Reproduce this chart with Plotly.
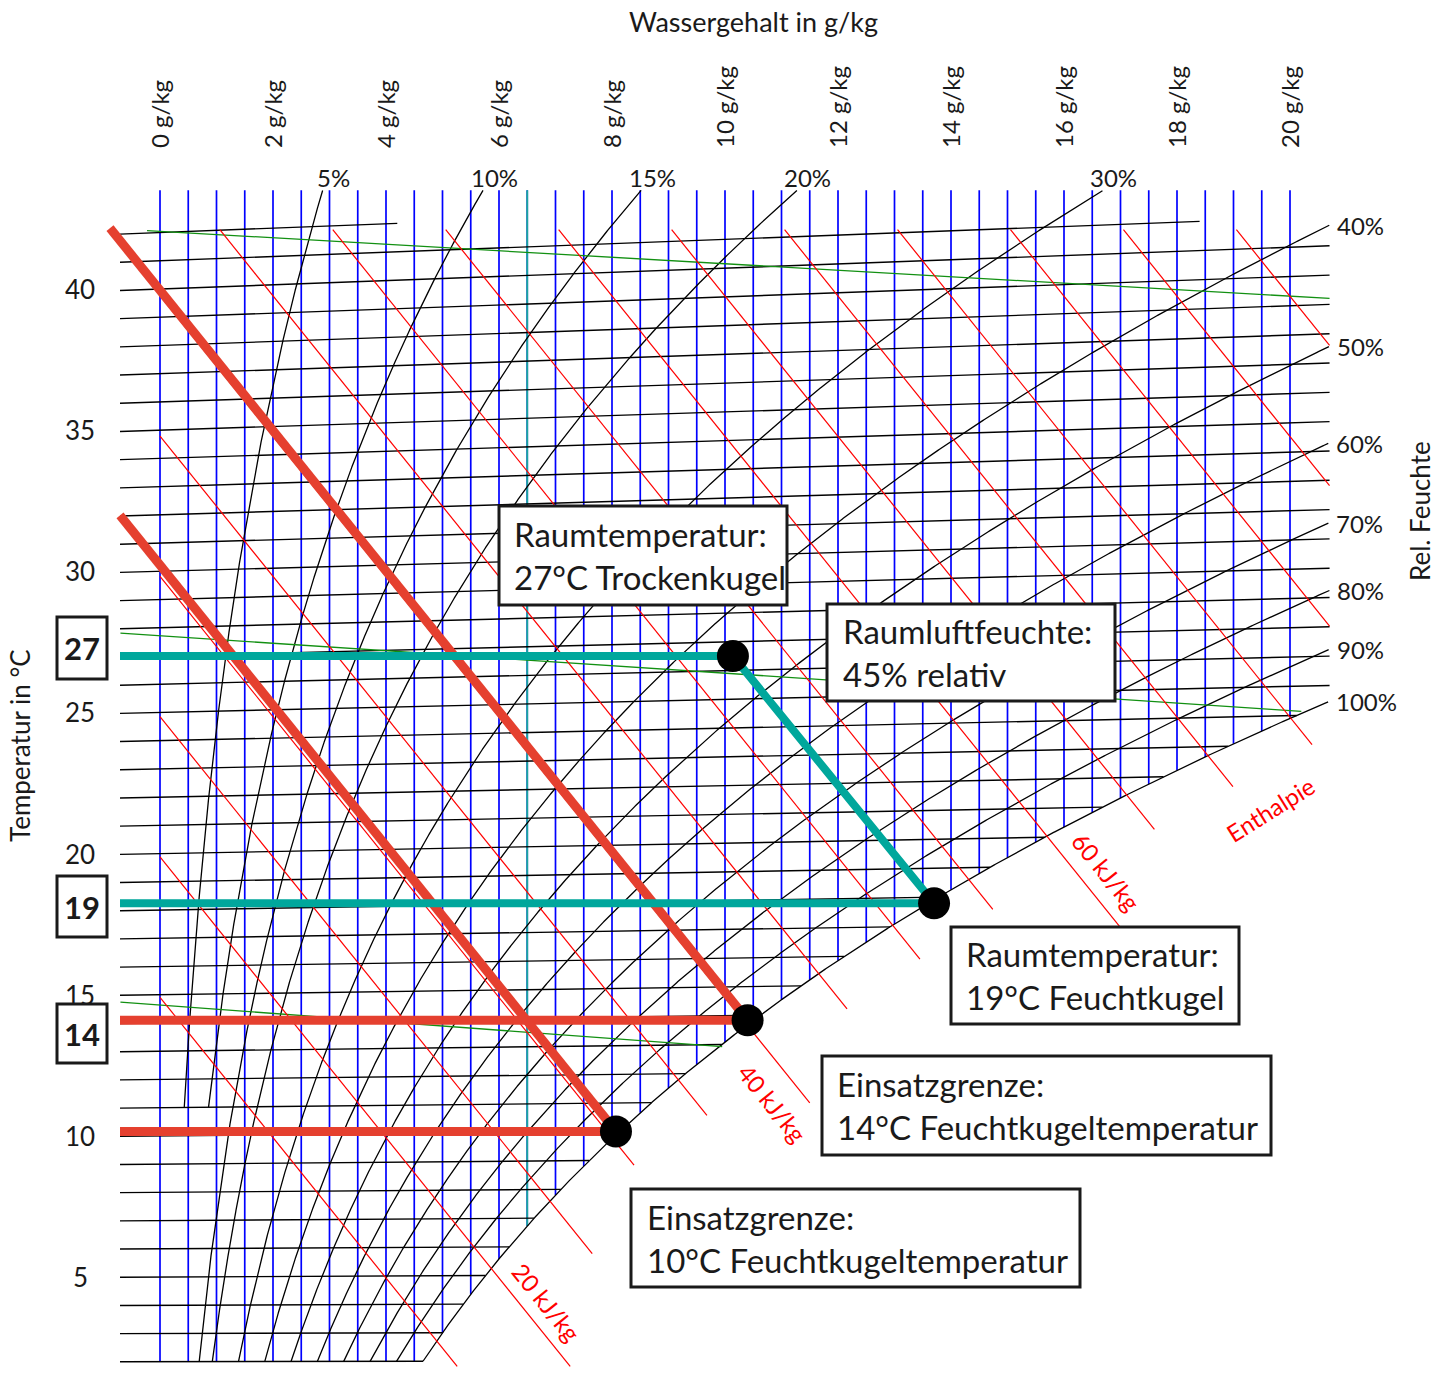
import numpy as np
import plotly.graph_objects as go

# ---------- Daten: h,x-Diagramm (Luftdruck ca. 950 hPa) ----------
p_luft = 95000.0  # Pa

isothermen = list(range(2, 43))            # Temperaturlinien in °C
isotherm_ende = {41: 18.4, 42: 4.2}         # kürzere Linien oben (g/kg)
wasser_linien = [i / 2 for i in range(41)]  # 0 ... 20 g/kg
wasser_markiert = 6.5
wasser_ticks = list(range(0, 21, 2))
temp_ticks = [5, 10, 15, 20, 25, 30, 35, 40]

rf_werte = [5, 10, 15, 20, 30, 40, 50, 60, 70, 80, 90, 100]   # %
rf_start = [11, 11, 2, 2, 2, 2, 2, 2, 2, 2, 2, 2]            # °C

h_werte = list(range(15, 95, 5))                              # kJ/kg
h_ende = [5.26, 7.26, 7.65, 8.39, 9.68, 11.5, 12.16, 13.45,
          14.74, 16.99, 17.6, 18.99, 20.39, 20.7, 20.7, 20.7]  # g/kg
h_text = {20: (547, 1302), 40: (773, 1103), 60: (1106, 872)}

dichte = [1.05, 1.10, 1.15]          # kg/m³
dichte_von = [-0.23, -0.7, -0.7]
dichte_bis = [20.7, 20.2, 9.95]

# Zustandspunkte: Wassergehalt g/kg, Ordinate °C
punkt_x = [10.14, 13.7, 10.4, 8.07]
punkt_y = [27.0, 18.24, 14.1, 10.16]
rot_von = [-0.885, -0.708]           # Anfang der dicken Enthalpielinien

X_LINKS, X_RECHTS = -0.708, 20.7
Y_OBEN, Y_OBEN_H = 43.5, 42.1
K = 1.86 / 1.006 / 1000


def ordinate(t, x):
    return t * (1 + K * x)


def ps(t):
    return 611.2 * np.exp(17.62 * t / (243.12 + t))


def x_sat(t, phi=1.0):
    return 622 * phi * ps(t) / (p_luft - phi * ps(t))


def t_sat(x):
    l = np.log(x * p_luft / (622 + x) / 611.2)
    return 243.12 * l / (17.62 - l)


def h_linie(h, x):
    return (h - 2.501 * np.asarray(x)) / 1.006


def segs(pairs):
    xs, ys = [], []
    for a, b in pairs:
        xs += list(a) + [None]
        ys += list(b) + [None]
    return xs, ys


fig = go.Figure()

# senkrechte Linien (Wassergehalt)
paare = []
for x in wasser_linien:
    unten = ordinate(2, x) if x < x_sat(2) else ordinate(t_sat(x), x)
    paare.append(([x, x], [Y_OBEN, unten]))
xs, ys = segs(paare)
fig.add_trace(go.Scatter(x=xs, y=ys, mode="lines", line=dict(color="#0000ff", width=1.7), hoverinfo="skip"))
unten = ordinate(t_sat(wasser_markiert), wasser_markiert)
fig.add_trace(go.Scatter(x=[wasser_markiert, wasser_markiert], y=[Y_OBEN, unten], mode="lines",
                         line=dict(color="#1aa89b", width=1.8), hoverinfo="skip"))

# Isothermen
paare = []
for t in isothermen:
    xe = isotherm_ende.get(t, min(x_sat(t), X_RECHTS))
    paare.append(([X_LINKS, xe], [ordinate(t, X_LINKS), ordinate(t, xe)]))
xs, ys = segs(paare)
fig.add_trace(go.Scatter(x=xs, y=ys, mode="lines", line=dict(color="black", width=1.4), hoverinfo="skip"))

# relative Feuchte
rf_enden = []
paare = []
for phi, t0 in zip(rf_werte, rf_start):
    t = np.arange(t0, 50, 0.02)
    x = x_sat(t, phi / 100)
    y = ordinate(t, x)
    m = (x <= X_RECHTS) & (y <= Y_OBEN)
    paare.append((x[m], y[m]))
    rf_enden.append((x[m][-1], y[m][-1]))
xs, ys = segs(paare)
fig.add_trace(go.Scatter(x=xs, y=ys, mode="lines", line=dict(color="black", width=1.3), hoverinfo="skip"))

# Dichte (grün)
paare = []
for rho, a, b in zip(dichte, dichte_von, dichte_bis):
    x = np.linspace(a, b, 80)
    T = p_luft * (1 + x / 1000) / (rho * 287.05 * (1 + 1.608 * x / 1000))
    paare.append((x, ordinate(T - 273.15, x)))
xs, ys = segs(paare)
fig.add_trace(go.Scatter(x=xs, y=ys, mode="lines", line=dict(color="#129012", width=1.3), hoverinfo="skip"))

# Enthalpie (rot)
paare = []
for h, xe in zip(h_werte, h_ende):
    xa = max(0.0, (h - 1.006 * Y_OBEN_H) / 2.501)
    paare.append(([xa, xe], h_linie(h, [xa, xe])))
xs, ys = segs(paare)
fig.add_trace(go.Scatter(x=xs, y=ys, mode="lines", line=dict(color="#ff0000", width=1.2), hoverinfo="skip"))

# Prozesslinien
rot = "#e5402f"
teal = "#00a79c"
for i, xa in zip([2, 3], rot_von):
    h = 1.006 * punkt_y[i] + 2.501 * punkt_x[i]
    fig.add_trace(go.Scatter(x=[xa, punkt_x[i]], y=h_linie(h, [xa, punkt_x[i]]), mode="lines",
                             line=dict(color=rot, width=9), hoverinfo="skip"))
    fig.add_trace(go.Scatter(x=[X_LINKS, punkt_x[i]], y=[punkt_y[i], punkt_y[i]], mode="lines",
                             line=dict(color=rot, width=9), hoverinfo="skip"))
fig.add_trace(go.Scatter(x=[X_LINKS, punkt_x[0], punkt_x[1], X_LINKS],
                         y=[punkt_y[0], punkt_y[0], punkt_y[1], punkt_y[1]], mode="lines",
                         line=dict(color=teal, width=8), hoverinfo="skip"))
fig.add_trace(go.Scatter(x=punkt_x, y=punkt_y, mode="markers",
                         marker=dict(color="black", size=32), hoverinfo="skip"))

# ---------- Beschriftung ----------
FONT = "Lato"
W, H = 1440, 1378


def px(v):
    return v / W


def py(v):
    return 1 - v / H


def txt(x, y, text, size, xref="paper", yref="paper", **kw):
    d = dict(x=x, y=y, xref=xref, yref=yref, text=text, showarrow=False,
             xanchor="center", yanchor="middle", font=dict(size=size))
    d.update(kw)
    if "color" in kw:
        d["font"] = dict(size=size, color=kw.pop("color"))
        d.pop("color")
    return d


ann = []
ann.append(txt(px(753), py(22), "Wassergehalt in g/kg", 27))
for g in wasser_ticks:
    ann.append(txt(g, py(150), f"{g} g/kg", 24, xref="x", textangle=-90, yanchor="bottom"))
for t in temp_ticks:
    ann.append(txt(px(80), t, str(t), 26, yref="y"))
ann.append(txt(px(20), py(746), "Temperatur in °C", 26, textangle=-90))
ann.append(txt(px(1420), py(511), "Rel. Feuchte", 26, textangle=-90))
for phi, (xe, ye) in zip(rf_werte, rf_enden):
    if xe < X_RECHTS - 0.05:
        ann.append(txt(xe, ye, f"{phi}%", 24, xref="x", yref="y", xshift=11, yshift=13))
    else:
        ann.append(txt(xe, ye, f"{phi}%", 24, xref="x", yref="y", xanchor="left", xshift=6))
for h, (cx, cy) in h_text.items():
    ann.append(txt(px(cx), py(cy), f"{h} kJ/kg", 24, textangle=51, color="#ff0000"))
ann.append(txt(px(1270), py(809), "Enthalpie", 24, textangle=-32, color="#ff0000"))

shapes = []
kaesten = [
    ((499, 506, 787, 605), 512, "Raumtemperatur:<br>27°C Trockenkugel"),
    ((827, 604, 1115, 701), 841, "Raumluftfeuchte:<br>45% relativ"),
    ((951, 927, 1239, 1024), 964, "Raumtemperatur:<br>19°C Feuchtkugel"),
    ((822, 1056, 1271, 1155), 835, "Einsatzgrenze:<br>14°C Feuchtkugeltemperatur"),
    ((631, 1189, 1080, 1287), 645, "Einsatzgrenze:<br>10°C Feuchtkugeltemperatur"),
]
for (x0, y0, x1, y1), tx, t in kaesten:
    shapes.append(dict(type="rect", xref="paper", yref="paper", x0=px(x0), x1=px(x1), y0=py(y0), y1=py(y1),
                       line=dict(color="#1a1a1a", width=3), fillcolor="white", layer="above"))
    ann.append(txt(px(tx), py((y0 + y1) / 2), t, 33, align="left", xanchor="left"))
for (y0, y1), t in zip([(617, 679), (876, 937), (1004, 1063)], ["27", "19", "14"]):
    shapes.append(dict(type="rect", xref="paper", yref="paper", x0=px(57), x1=px(107), y0=py(y0), y1=py(y1),
                       line=dict(color="#1a1a1a", width=3), fillcolor="white", layer="above"))
    ann.append(txt(px(82), py((y0 + y1) / 2), f"<b>{t}</b>", 31))

fig.update_layout(
    width=W, height=H, autosize=False, showlegend=False,
    margin=dict(l=0, r=0, t=0, b=0),
    paper_bgcolor="white", plot_bgcolor="white",
    font=dict(family=FONT, color="#1a1a1a"),
    xaxis=dict(range=[-160 / 56.5, 1280 / 56.5], visible=False, fixedrange=True),
    yaxis=dict(range=[40 - 1089 / 28.23, 40 + 289 / 28.23], visible=False, fixedrange=True),
    annotations=ann, shapes=shapes,
)
fig.write_html("out.html", config={"displayModeBar": False},
               post_script="document.body.style.margin='0';")
